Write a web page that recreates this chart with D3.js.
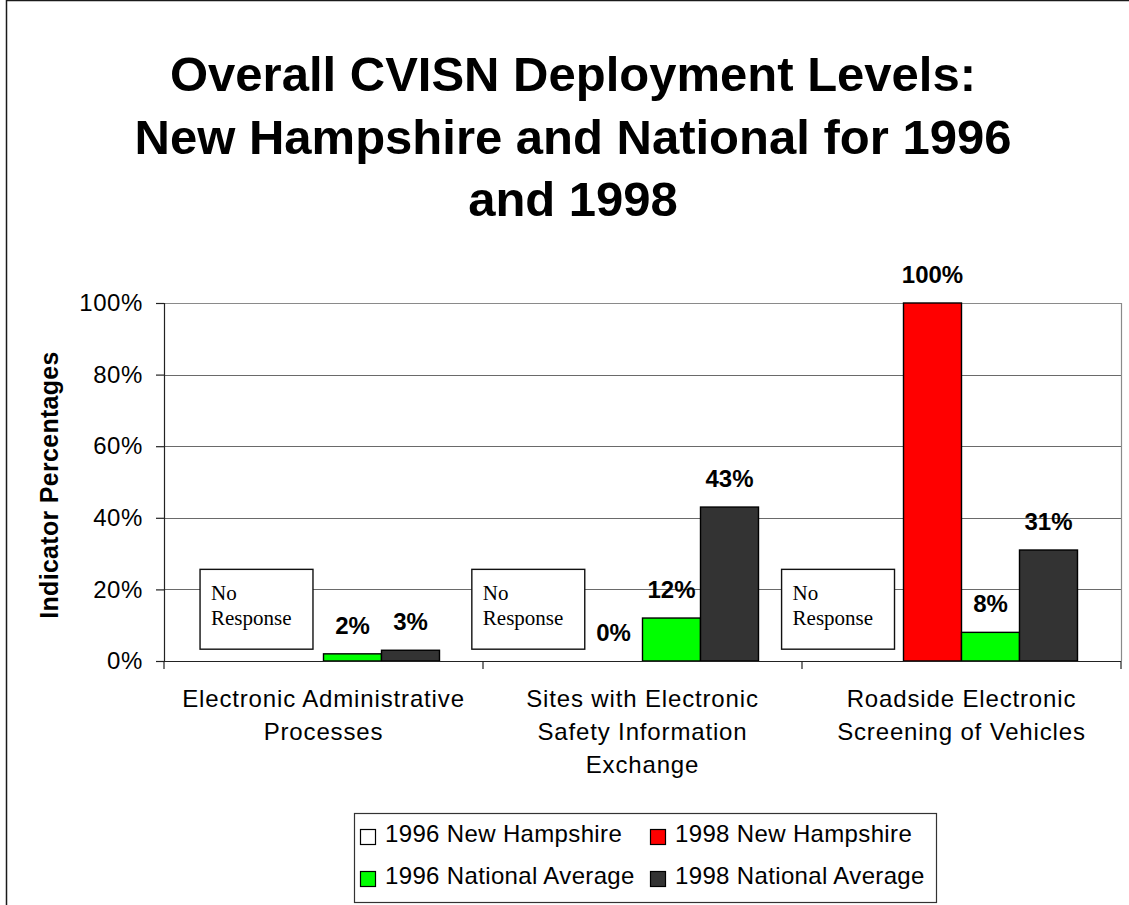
<!DOCTYPE html>
<html>
<head>
<meta charset="utf-8">
<script src="https://cdn.jsdelivr.net/npm/d3@7"></script>
<style>
  html, body { margin: 0; padding: 0; background: #fff; }
  svg { display: block; }
  text { font-family: "Liberation Sans", Arial, sans-serif; fill: #000; }
</style>
</head>
<body>
<svg id="chart" width="1129" height="905"></svg>
<script>
// ---- data ----
const titleLines = ["Overall CVISN Deployment Levels:", "New Hampshire and National for 1996", "and 1998"];
const categories = ["Electronic Administrative Processes", "Sites with Electronic Safety Information Exchange", "Roadside Electronic Screening of Vehicles"];
const categoryLines = [["Electronic Administrative", "Processes"], ["Sites with Electronic", "Safety Information", "Exchange"], ["Roadside Electronic", "Screening of Vehicles"]];
const seriesNames = ["1996 New Hampshire", "1998 New Hampshire", "1996 National Average", "1998 National Average"];
const seriesColors = ["#FFFFFF", "#FF0000", "#00FF00", "#333333"];
const nh1996 = [null, null, null];
const nh1998 = [null, 0, 100];
const nat1996 = [2, 12, 8];
const nat1998 = [3, 43, 31];
const seriesValues = [nh1996, nh1998, nat1996, nat1998];
const yTicks = [0, 20, 40, 60, 80, 100];
const yAxisTitle = "Indicator Percentages";
const noResponseText = ["No", "Response"];

// ---- layout ----
const svg = d3.select("#chart");
const L = 164, R = 1121, T = 303, B = 661;

const x0 = d3.scaleBand().domain(categories).range([L, R]).paddingInner(0).paddingOuter(0);
const x1 = d3.scaleBand().domain(seriesNames).range([0, x0.bandwidth()]).paddingInner(0).paddingOuter(0.75);
const y = d3.scaleLinear().domain([0, 100]).range([B, T]);
const xc = d3.scaleLinear().domain([0, categories.length]).range([L, R]); // continuous category units for annotations

// outer frame
svg.append("rect").attr("x", 6.5).attr("y", 0.5).attr("width", 1140).attr("height", 930)
  .attr("fill", "none").attr("stroke", "#1a1a1a").attr("stroke-width", 1.5);

// title
svg.append("g").selectAll("text").data(titleLines).join("text")
  .attr("x", 573).attr("y", (d, i) => 91 + i * 62.5)
  .attr("text-anchor", "middle").attr("font-weight", "bold").attr("font-size", 49)
  .text(d => d);

// gridlines
svg.append("g").selectAll("line").data(yTicks.filter(t => t > 0)).join("line")
  .attr("x1", L).attr("x2", R).attr("y1", d => Math.round(y(d)) + 0.5).attr("y2", d => Math.round(y(d)) + 0.5)
  .attr("stroke", d => d === 100 ? "#8a8a8a" : "#6a6a6a").attr("stroke-width", 1.2);
// plot right border
svg.append("line").attr("x1", R + 0.5).attr("x2", R + 0.5).attr("y1", T).attr("y2", B)
  .attr("stroke", "#8a8a8a").attr("stroke-width", 1.2);

// y axis
const yAxis = svg.append("g").attr("transform", `translate(${L},0)`)
  .call(d3.axisLeft(y).tickValues(yTicks).tickFormat(d => d + "%").tickSize(8).tickPadding(13));
yAxis.select(".domain").attr("stroke", "#222").attr("stroke-width", 1.2);
yAxis.selectAll(".tick line").attr("stroke", "#222").attr("stroke-width", 1.2);
yAxis.selectAll(".tick text").attr("font-size", 24).attr("font-family", "Liberation Sans, Arial, sans-serif")
  .attr("letter-spacing", 0.6).attr("fill", "#000");

// y axis title
svg.append("text").attr("transform", `translate(58,${(T + B) / 2 + 3}) rotate(-90)`)
  .attr("text-anchor", "middle").attr("font-weight", "bold").attr("font-size", 25)
  .attr("letter-spacing", 0.3)
  .text(yAxisTitle);

// no-response annotation boxes (placed in category units / percent units)
const nrLeft = [0.113, 0.965, 1.936], nrWidth = 0.354, nrTop = 25.6, nrBottom = 3.3;
const nr = svg.append("g").selectAll("g").data(nrLeft).join("g");
nr.append("rect")
  .attr("x", d => xc(d)).attr("y", y(nrTop))
  .attr("width", d => xc(d + nrWidth) - xc(d)).attr("height", y(nrBottom) - y(nrTop))
  .attr("fill", "#fff").attr("stroke", "#111").attr("stroke-width", 1.4);
nr.selectAll("text").data(d => noResponseText.map((t, i) => ({ t, i, d }))).join("text")
  .attr("x", o => xc(o.d) + 11).attr("y", o => y(nrTop) + 30.7 + o.i * 25)
  .style("font-family", "'Liberation Serif', 'Times New Roman', serif").attr("font-size", 21)
  .text(o => o.t);

// bars
const barData = [];
categories.forEach((c, ci) => seriesNames.forEach((s, si) => {
  const v = seriesValues[si][ci];
  if (v !== null) barData.push({ c, s, v, color: seriesColors[si] });
}));
svg.append("g").selectAll("rect").data(barData.filter(d => d.v > 0)).join("rect")
  .attr("x", d => x0(d.c) + x1(d.s)).attr("width", x1.bandwidth())
  .attr("y", d => y(d.v)).attr("height", d => y(0) - y(d.v))
  .attr("fill", d => d.color).attr("stroke", "#000").attr("stroke-width", 1.4);

// x axis line + boundary ticks
svg.append("line").attr("x1", L).attr("x2", R).attr("y1", B + 0.5).attr("y2", B + 0.5)
  .attr("stroke", "#222").attr("stroke-width", 1.2);
const edges = categories.map(c => x0(c)).concat([R]);
svg.append("g").selectAll("line").data(edges).join("line")
  .attr("x1", d => d).attr("x2", d => d).attr("y1", B).attr("y2", B + 8)
  .attr("stroke", "#222").attr("stroke-width", 1.2);

// data labels
svg.append("g").selectAll("text").data(barData).join("text")
  .attr("x", d => x0(d.c) + x1(d.s) + x1.bandwidth() / 2)
  .attr("y", d => y(d.v) - 20)
  .attr("text-anchor", "middle").attr("font-weight", "bold").attr("font-size", 24)
  .text(d => d.v + "%");

// category labels
const cl = svg.append("g").selectAll("g").data(categories).join("g");
cl.selectAll("text").data((c, i) => categoryLines[i].map((t, j) => ({ c, t, j }))).join("text")
  .attr("x", o => x0(o.c) + x0.bandwidth() / 2).attr("y", o => 706.5 + o.j * 33.3)
  .attr("text-anchor", "middle").attr("font-size", 24).attr("letter-spacing", 0.85)
  .text(o => o.t);

// legend
const lg = svg.append("g");
lg.append("rect").attr("x", 354.5).attr("y", 813.5).attr("width", 582).attr("height", 89)
  .attr("fill", "#fff").attr("stroke", "#333").attr("stroke-width", 1.2);
const legCols = [360, 650], legRows = [842, 884];
const li = lg.selectAll("g").data(seriesNames).join("g")
  .attr("transform", (d, i) => `translate(${legCols[i % 2]},${legRows[Math.floor(i / 2)]})`);
li.append("rect").attr("x", 0.5).attr("y", -12.5).attr("width", 15).attr("height", 15)
  .attr("fill", (d, i) => seriesColors[i]).attr("stroke", "#000").attr("stroke-width", 1.2);
li.append("text").attr("x", (d, i) => i % 2 === 0 ? 25 : 25).attr("y", 0)
  .attr("font-size", 24).attr("letter-spacing", 0.35).text(d => d);
</script>
</body>
</html>
